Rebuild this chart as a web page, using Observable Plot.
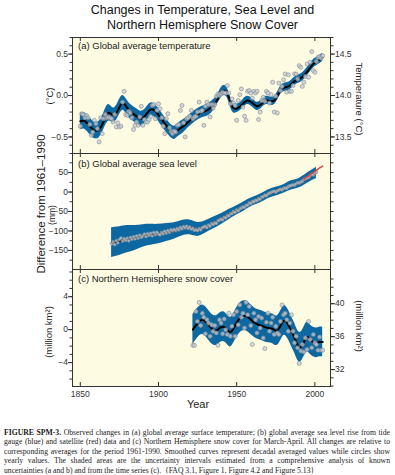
<!DOCTYPE html>
<html><head><meta charset="utf-8">
<script src="https://cdn.jsdelivr.net/npm/d3@7"></script>
<script src="https://cdn.jsdelivr.net/npm/@observablehq/plot@0.6"></script>
<style>
body{margin:0;background:#fff;}
#wrap{position:relative;width:395px;height:475px;overflow:hidden;font-family:"Liberation Sans",Arial,sans-serif;color:#222;}
.t{position:absolute;white-space:nowrap;}
.cap{position:absolute;left:4px;width:386px;font-family:"Liberation Serif","Times New Roman",serif;font-size:7.7px;line-height:9.4px;text-align:justify;text-align-last:justify;white-space:normal;color:#1a1a1a;}
svg{position:absolute;left:0;overflow:visible;}
</style></head><body><div id="wrap"></div><script>
// ---------- DATA ----------
const tempStart = 1850;
const tempValues = [
 -0.37,-0.22,-0.23,-0.27,-0.24,-0.27,-0.35,-0.48,-0.44,-0.30,
 -0.34,-0.40,-0.56,-0.27,-0.46,-0.28,-0.23,-0.27,-0.26,-0.27,
 -0.28,-0.32,-0.23,-0.38,-0.33,-0.38,-0.37,-0.08,0.05,-0.23,
 -0.24,-0.19,-0.21,-0.27,-0.41,-0.36,-0.32,-0.36,-0.26,-0.13,
 -0.36,-0.29,-0.32,-0.32,-0.29,-0.25,-0.12,-0.11,-0.28,-0.18,
 -0.10,-0.16,-0.27,-0.37,-0.46,-0.28,-0.22,-0.39,-0.43,-0.46,
 -0.43,-0.44,-0.36,-0.35,-0.18,-0.12,-0.33,-0.50,-0.28,-0.27,
 -0.25,-0.18,-0.28,-0.26,-0.25,-0.20,-0.08,-0.19,-0.18,-0.36,
 -0.13,-0.08,-0.11,-0.26,-0.11,-0.15,-0.11,-0.01,0.02,0.00,
 0.02,0.04,0.03,0.03,0.12,0.03,-0.10,-0.04,-0.09,-0.12,
 -0.30,-0.06,0.01,0.08,-0.14,-0.25,-0.30,0.05,0.06,0.03,
 -0.03,0.05,0.03,0.05,-0.29,-0.20,-0.06,-0.02,-0.07,0.05,
 0.03,-0.09,0.01,0.16,-0.20,-0.01,-0.21,0.15,0.06,0.11,
 0.19,0.26,0.04,0.25,0.05,0.05,0.12,0.26,0.26,0.20,
 0.36,0.34,0.11,0.16,0.23,0.38,0.22,0.40,0.53,0.30,
 0.28,0.41,0.46,0.47,0.45,0.48];
const tempSmoothYears = [1850,1853,1856,1859,1862,1865,1868,1871,1874,1877,1880,1883,1886,1889,1892,1895,1898,1901,1904,1907,1910,1913,1916,1919,1922,1925,1928,1931,1934,1937,1940,1942,1944,1946,1948,1951,1954,1957,1960,1963,1966,1969,1972,1975,1978,1981,1984,1987,1990,1993,1996,1999,2002,2005];
const tempSmoothValues = [-0.31,-0.31,-0.37,-0.42,-0.41,-0.31,-0.21,-0.24,-0.18,-0.09,-0.15,-0.21,-0.25,-0.28,-0.23,-0.17,-0.19,-0.26,-0.34,-0.41,-0.45,-0.41,-0.37,-0.32,-0.27,-0.23,-0.20,-0.18,-0.14,-0.07,0.03,0.06,0.03,-0.08,-0.15,-0.15,-0.10,-0.06,-0.09,-0.13,-0.10,-0.06,-0.07,-0.04,0.06,0.10,0.12,0.17,0.20,0.24,0.31,0.38,0.42,0.46];
const tempUncert = [0.10,0.10,0.10,0.10,0.10,0.10,0.10,0.09,0.09,0.09,0.09,0.09,0.09,0.09,0.08,0.08,0.08,0.08,0.08,0.08,0.08,0.08,0.08,0.07,0.07,0.07,0.07,0.07,0.07,0.06,0.06,0.06,0.06,0.06,0.06,0.05,0.05,0.05,0.05,0.05,0.05,0.05,0.05,0.05,0.05,0.05,0.05,0.05,0.05,0.05,0.05,0.05,0.05,0.05];

const seaStart = 1870;
const seaValues = [
 -133,-128,-135,-125,-130,-122,-118,-126,-120,-124,
 -119,-125,-117,-121,-115,-120,-113,-118,-111,-116,
 -112,-108,-114,-107,-111,-106,-112,-104,-109,-103,
 -108,-110,-104,-107,-101,-105,-99,-103,-97,-100,
 -96,-99,-94,-97,-91,-94,-89,-92,-88,-93,
 -90,-95,-93,-98,-96,-99,-94,-97,-92,-90,
 -88,-91,-85,-87,-81,-83,-78,-80,-74,-72,
 -69,-71,-65,-66,-60,-61,-56,-55,-50,-52,
 -46,-48,-43,-41,-38,-39,-34,-33,-28,-29,
 -24,-25,-21,-22,-17,-18,-13,-12,-8,-9,
 -5,-3,-1,1,2,0,3,5,7,6,
 9,11,10,14,16,17,19,18,21,24,
 23,26,28,32,34,36,38,42,46,44,
 48,51];
const seaSmoothYears = [1870,1875,1880,1885,1890,1895,1900,1905,1910,1915,1920,1925,1930,1935,1940,1945,1950,1955,1960,1965,1970,1975,1980,1985,1990,1995,2000,2001];
const seaSmoothValues = [-130,-126,-121,-118,-113,-110,-108,-104,-100,-93,-91,-96,-90,-80,-70,-58,-47,-36,-25,-17,-6,1,8,17,23,35,47,50];
const seaUncert = [38,37,35,32,29,27,25,23,21,20,19,18,16,15,14,13,12,12,11,11,11,11,11,12,12,13,14,15];
const satYears = [1993,1994,1995,1996,1997,1998,1999,2000,2001,2002,2003,2004,2005];
const satValues = [33,36,39,41,45,48,50,53,56,59,62,64,67];

const snowStart = 1922;
const snowValues = [
 -1.9,-1.9,2.2,1.0,3.3,0.5,2.0,1.5,
 -0.5,1.2,0.8,-0.8,0.6,-0.2,0.5,-0.4,-1.9,1.2,
 0.8,-0.5,1.3,0.0,-0.6,2.0,-0.8,0.4,1.8,-0.8,
 2.2,0.6,3.0,1.5,2.0,0.2,3.3,1.8,2.8,0.5,
 -1.8,2.0,1.2,-0.4,1.6,0.2,1.4,-1.0,-2.3,0.9,
 2.0,-0.2,0.8,1.5,-0.6,0.4,-0.4,-0.6,1.0,3.0,
 1.8,2.0,1.2,-0.2,0.8,1.8,-0.2,-1.6,-0.8,-2.2,
 -4.1,-2.6,-1.8,-2.7,-1.0,-2.4,1.0,-1.2,-2.2,-0.6,
 -1.6,-1.8,-2.5,-0.9,-2.5,-2.5];
const snowSmoothYears = [1922,1925,1928,1931,1934,1937,1940,1943,1946,1949,1952,1955,1958,1961,1964,1967,1970,1973,1976,1979,1981,1983,1985,1987,1989,1991,1993,1995,1997,1999,2001,2003,2005];
const snowSmoothValues = [0.0,0.8,1.2,0.8,0.1,-0.1,0.3,0.2,-0.3,0.5,1.4,1.7,1.4,0.9,0.6,0.4,0.2,0.1,-0.1,0.8,1.1,0.6,-0.2,-1.0,-1.9,-2.1,-1.5,-0.9,-1.2,-1.5,-1.6,-1.5,-1.5];
const snowUncert = 1.8;

const xTicks = [1850, 1900, 1950, 2000];
const tempTicks = [-0.5, 0, 0.5];
const tempRightTicks = [13.5, 14.0, 14.5];
const tempRightOffset = 14.0;
const seaTicks = [-150, -100, -50, 0, 50];
const snowTicks = [-4, 0, 4];
const snowRightTicks = [32, 36, 40];
const snowRightOffset = 36.85;

// ---------- STYLE ----------
const BG = "#fdfbe2", BAND = "#0d68a1", DOTF = "#c9ced5", DOTS = "#7f868e", AX = "#333";
const X_DOMAIN = [1845, 2010];
const ML = 72, MR = 65;
const fmtNum = d => String(d).replace("-", "\u2212");
const fmt1 = d => d.toFixed(1).replace("-", "\u2212");

const wrap = document.getElementById("wrap");
function txt(html, x, y, size, opts = {}) {
  const d = document.createElement("div");
  d.className = "t";
  d.innerHTML = html;
  d.style.fontSize = size + "px";
  d.style.left = x + "px";
  d.style.top = y + "px";
  const ax = opts.anchor === "start" ? "0" : "-50%";
  d.style.transform = `translate(${ax},-50%)` + (opts.rot ? ` rotate(${opts.rot}deg)` : "");
  if (opts.rot) d.style.transformOrigin = "50% 50%";
  if (opts.anchor === "start") d.style.transformOrigin = "0 50%";
  if (opts.color) d.style.color = opts.color;
  wrap.appendChild(d);
  return d;
}

function rows(start, vals) { return vals.map((v, i) => ({year: start + i, v})); }
function smooth(years, vals, unc) {
  return years.map((y, i) => {
    const u = Array.isArray(unc) ? unc[i] : unc;
    return {year: y, v: vals[i], lo: vals[i] - u, hi: vals[i] + u};
  });
}

function panel({top, fh, mb = 2, yDomain, marks, xLabels = false}) {
  const mt = 2;
  const h = mt + fh + mb;
  const m = [
    Plot.frame({fill: BG}),
    ...marks,
    Plot.tickX(xTicks, {x: d => d, insetTop: fh - 4, stroke: AX}),
    Plot.tickX(xTicks, {x: d => d, insetBottom: fh - 4, stroke: AX}),
    Plot.frame({stroke: AX, strokeWidth: 1})
  ];
  if (xLabels) m.push(Plot.axisX({anchor: "bottom", ticks: xTicks, tickSize: 0, tickPadding: 4, tickFormat: d => String(d), fontSize: 8.5, label: null}));
  const svg = Plot.plot({
    width: 395, height: h, marginLeft: ML, marginRight: MR, marginTop: mt, marginBottom: mb,
    x: {domain: X_DOMAIN, axis: null, label: null},
    y: {domain: yDomain, axis: null, label: null},
    style: {fontFamily: "Liberation Sans, Arial, sans-serif", fontSize: "8.5px", color: AX, background: "none", overflow: "visible"},
    marks: m
  });
  svg.style.top = (top - mt) + "px";
  wrap.appendChild(svg);
  return svg;
}
function yAxes(major, minor, fmt, rightMajor, rightOffset, rightMinor, rightFmt) {
  const out = [
    Plot.axisY({anchor: "left", ticks: minor, tickSize: 2.5, tickFormat: () => "", stroke: AX, label: null}),
    Plot.axisY({anchor: "left", ticks: major, tickSize: 4, tickPadding: 0.5, tickFormat: fmt, fontSize: 8.5, stroke: AX, label: null})
  ];
  out.push(Plot.axisY({anchor: "right", ticks: rightMinor.map(r => r - rightOffset), tickSize: 2.5, tickFormat: () => "", stroke: AX, label: null}));
  if (rightMajor) out.push(Plot.axisY({anchor: "right", ticks: rightMajor.map(r => r - rightOffset), tickSize: 4, tickPadding: 0.5,
      tickFormat: d => rightFmt(d + rightOffset), fontSize: 8.5, stroke: AX, label: null}));
  return out;
}

// ---------- TITLE ----------
const title = document.createElement("div");
title.className = "t";
title.style.cssText = "left:0;width:395px;top:3px;text-align:center;font-size:12.5px;line-height:15px;color:#111;padding-left:10px;box-sizing:border-box;";
title.innerHTML = "Changes in Temperature, Sea Level and<br>Northern Hemisphere Snow Cover";
wrap.appendChild(title);

// ---------- PANEL A ----------
const tS = smooth(tempSmoothYears, tempSmoothValues, tempUncert);
panel({
  top: 37, fh: 116, yDomain: [-0.7, 0.7],
  marks: [
    Plot.areaY(tS, {x: "year", y1: "lo", y2: "hi", fill: BAND, curve: "natural"}),
    Plot.lineY(tS, {x: "year", y: "v", stroke: "#000", strokeWidth: 2, curve: "natural"}),
    Plot.dot(rows(tempStart, tempValues), {x: "year", y: "v", r: 2, fill: DOTF, fillOpacity: 0.75, stroke: DOTS, strokeWidth: 0.6}),
    ...yAxes(tempTicks, d3.range(-0.7, 0.71, 0.1).map(d => +d.toFixed(1)), fmt1,
             tempRightTicks, tempRightOffset, d3.range(13.3, 14.71, 0.1).map(d => +d.toFixed(1)), d => d.toFixed(1))
  ]
});

// ---------- PANEL B ----------
const sS = smooth(seaSmoothYears, seaSmoothValues, seaUncert);
panel({
  top: 153, fh: 116, yDomain: [-199, 99],
  marks: [
    Plot.areaY(sS, {x: "year", y1: "lo", y2: "hi", fill: BAND, curve: "natural"}),
    Plot.lineY(sS, {x: "year", y: "v", stroke: "#000", strokeWidth: 2, curve: "natural"}),
    Plot.dot(rows(seaStart, seaValues), {x: "year", y: "v", r: 1.5, fill: DOTF, fillOpacity: 0.75, stroke: DOTS, strokeWidth: 0.5}),
    Plot.lineY(satYears.map((y, i) => ({year: y, v: satValues[i]})), {x: "year", y: "v", stroke: "#e0403a", strokeWidth: 1.5, curve: "natural"}),
    ...yAxes(seaTicks, d3.range(-175, 99, 25), fmtNum, null, 0, d3.range(-175, 99, 25), fmtNum)
  ]
});

// ---------- PANEL C ----------
const nS = smooth(snowSmoothYears, snowSmoothValues, snowUncert);
panel({
  top: 269, fh: 117, mb: 20, yDomain: [-6.9, 7.3], xLabels: true,
  marks: [
    Plot.areaY(nS, {x: "year", y1: "lo", y2: "hi", fill: BAND, curve: "natural"}),
    Plot.lineY(nS, {x: "year", y: "v", stroke: "#000", strokeWidth: 2, curve: "natural"}),
    Plot.dot(rows(snowStart, snowValues), {x: "year", y: "v", r: 2, fill: DOTF, fillOpacity: 0.75, stroke: DOTS, strokeWidth: 0.6}),
    ...yAxes(snowTicks, d3.range(-6, 8, 1), fmtNum, snowRightTicks, snowRightOffset, d3.range(30, 44, 1), fmtNum)
  ]
});

// ---------- LABELS ----------
txt("(a) Global average temperature", 78, 45, 9.5, {anchor: "start"});
txt("(b) Global average sea level", 78, 163, 9.5, {anchor: "start"});
txt("(c) Northern Hemisphere snow cover", 78, 278, 9.5, {anchor: "start"});
txt("Difference from 1961\u20131990", 41, 204, 11.5, {rot: -90});
txt("(\u00b0C)", 49, 96, 9.5, {rot: -90});
txt("(mm)", 52, 215, 8.5, {rot: -90});
txt("(million km\u00b2)", 48, 332, 9.5, {rot: -90});
txt("Temperature (\u00b0C)", 359, 99, 9.5, {rot: 90});
txt("(million km\u00b2)", 359, 326, 9.5, {rot: 90});
txt("Year", 198, 404, 11);

// ---------- CAPTION ----------
const capLines = [
 "<b>FIGURE SPM-3.</b> Observed changes in (a) global average surface temperature; (b) global average sea level rise from tide",
 "gauge (blue) and satellite (red) data and (c) Northern Hemisphere snow cover for March-April. All changes are relative to",
 "corresponding averages for the period 1961-1990. Smoothed curves represent decadal averaged values while circles show",
 "yearly values. The shaded areas are the uncertainty intervals estimated from a comprehensive analysis of known",
 "uncertainties (a and b) and from the time series (c).&nbsp; {FAQ 3.1, Figure 1, Figure 4.2 and Figure 5.13}"
];
capLines.forEach((l, i) => {
  const d = document.createElement("div");
  d.className = "cap";
  d.style.top = (428 + i * 9.4) + "px";
  if (i === capLines.length - 1) d.style.textAlignLast = "left";
  d.innerHTML = l;
  wrap.appendChild(d);
});
</script></body></html>
